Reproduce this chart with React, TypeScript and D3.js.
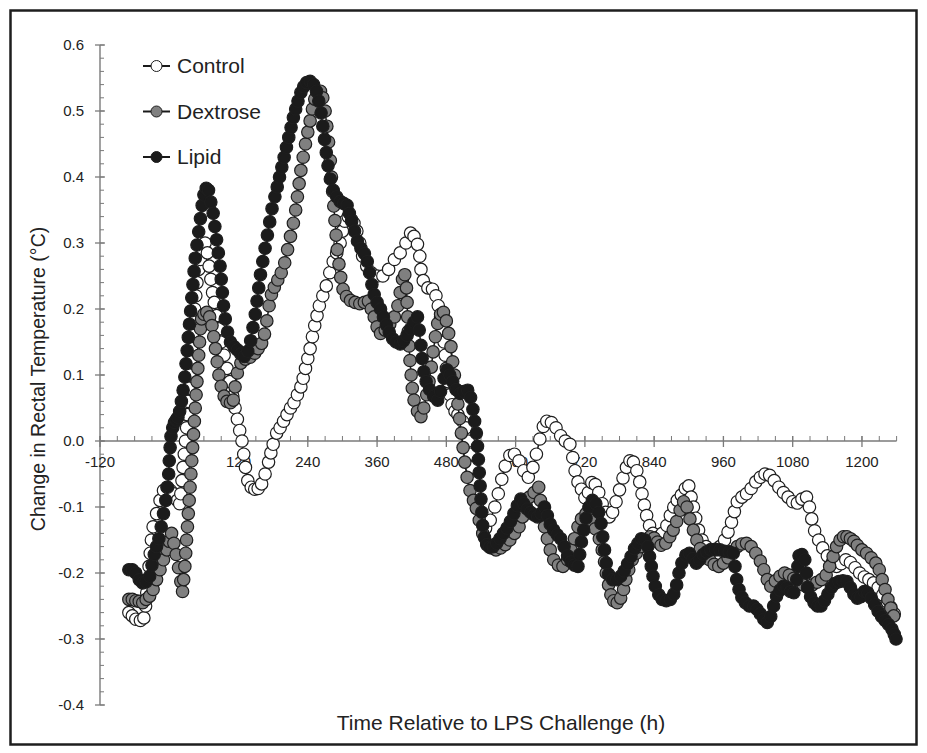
import React, { useEffect, useRef } from 'react';
import * as d3 from 'd3';

// [hours relative to LPS, change in rectal temperature °C]
const controlPoints: [number, number][] = [
  [-70,-0.26],[-64,-0.265],[-58,-0.27],[-50,-0.272],[-44,-0.268],[-41,-0.25],[-39,-0.23],[-37,-0.21],[-35,-0.19],[-33,-0.17],[-31,-0.15],[-28,-0.13],
  [-22,-0.11],[-16,-0.09],[-10,-0.075],[-4,-0.07],[2,-0.075],[8,-0.08],[14,-0.09],[18,-0.095],[20,-0.08],[22,-0.06],[24,-0.04],[26,-0.02],[28,0.0],
  [30,0.02],[31,0.04],[32.5,0.06],[34,0.08],[35.5,0.1],[37,0.12],[38.5,0.14],[40,0.16],[42,0.18],[44,0.2],[46,0.22],[48,0.24],[51,0.26],[54,0.275],
  [58,0.29],[62,0.3],[66,0.285],[69,0.265],[72,0.245],[75,0.225],[78,0.21],[82,0.19],[86,0.17],[90,0.15],[95,0.13],[100,0.11],[105,0.09],[110,0.068],
  [114,0.05],[118,0.033],[122,0.016],[126,0.0],[129,-0.02],[132,-0.04],[136,-0.06],[142,-0.07],[148,-0.073],[154,-0.072],[160,-0.065],[166,-0.05],
  [172,-0.032],[176,-0.018],[180,-0.005],[186,0.012],[192,0.02],[198,0.03],[204,0.04],[210,0.05],[216,0.058],[222,0.07],[228,0.082],[232,0.095],
  [236,0.11],[240,0.125],[244,0.14],[248,0.158],[252,0.175],[256,0.19],[260,0.205],[266,0.22],[272,0.235],[278,0.255],[284,0.272],[290,0.285],
  [296,0.3],[300,0.318],[304,0.333],[310,0.34],[316,0.335],[320,0.33],[325,0.318],[330,0.3],[335,0.28],[342,0.265],[350,0.255],[360,0.25],[370,0.25],
  [380,0.26],[390,0.275],[400,0.285],[410,0.3],[418,0.315],[424,0.31],[430,0.298],[434,0.28],[436,0.26],[440,0.243],[448,0.232],[456,0.23],[462,0.22],
  [466,0.205],[470,0.188],[473,0.17],[476,0.15],[478,0.13],[480,0.11],[483,0.09],[486,0.07],[490,0.055],[495,0.045],[500,0.04],[508,0.03],[514,0.02],
  [518,0.0],[521,-0.02],[524,-0.04],[527,-0.06],[530,-0.08],[534,-0.1],[540,-0.118],[548,-0.132],[556,-0.12],[564,-0.1],[570,-0.08],[576,-0.058],
  [582,-0.038],[590,-0.022],[598,-0.02],[606,-0.03],[614,-0.045],[622,-0.055],[630,-0.04],[636,-0.02],[642,0.003],[648,0.022],[654,0.03],[662,0.028],
  [670,0.02],[678,0.008],[686,0.0],[694,-0.005],[699,-0.025],[703,-0.045],[708,-0.062],[714,-0.073],[720,-0.086],[726,-0.078],[732,-0.063],[738,-0.066],
  [744,-0.078],[750,-0.095],[756,-0.108],[762,-0.115],[768,-0.108],[774,-0.092],[780,-0.074],[786,-0.056],[792,-0.04],[798,-0.03],[804,-0.032],
  [810,-0.045],[815,-0.062],[819,-0.08],[823,-0.097],[827,-0.113],[832,-0.128],[838,-0.14],[846,-0.146],[854,-0.14],[862,-0.128],[868,-0.113],
  [874,-0.1],[880,-0.09],[887,-0.082],[894,-0.072],[900,-0.068],[904,-0.085],[908,-0.1],[912,-0.117],[917,-0.135],[923,-0.15],[930,-0.16],[938,-0.165],
  [946,-0.165],[954,-0.16],[962,-0.15],[968,-0.138],[974,-0.123],[979,-0.107],[984,-0.092],[992,-0.085],[1000,-0.08],[1008,-0.072],[1016,-0.062],
  [1024,-0.055],[1032,-0.05],[1040,-0.052],[1048,-0.06],[1056,-0.07],[1064,-0.078],[1072,-0.085],[1080,-0.092],[1088,-0.094],[1096,-0.088],[1104,-0.085],
  [1109,-0.1],[1113,-0.118],[1118,-0.136],[1125,-0.15],[1132,-0.162],[1140,-0.174],[1148,-0.185],[1156,-0.19],[1164,-0.186],[1172,-0.18],[1180,-0.184],
  [1188,-0.192],[1196,-0.2],[1204,-0.206],[1212,-0.21],[1220,-0.215],[1228,-0.222],[1236,-0.233],[1244,-0.244],[1250,-0.252],[1256,-0.262],
];

const dextrosePoints: [number, number][] = [
  [-70,-0.24],[-64,-0.24],[-58,-0.242],[-52,-0.243],[-46,-0.245],[-40,-0.24],[-34,-0.235],[-28,-0.225],[-22,-0.21],[-16,-0.195],[-10,-0.18],[-4,-0.165],
  [0,-0.152],[4,-0.14],[8,-0.155],[12,-0.172],[16,-0.192],[20,-0.213],[23,-0.228],[25,-0.21],[27,-0.19],[28.5,-0.17],[30,-0.15],[31.5,-0.13],[33,-0.11],
  [34.5,-0.09],[36,-0.07],[37.5,-0.05],[39,-0.03],[40.5,-0.01],[42,0.01],[43.5,0.03],[45,0.05],[46.5,0.07],[48,0.09],[49.5,0.11],[51,0.13],[52.5,0.15],
  [54,0.17],[56,0.185],[60,0.192],[65,0.195],[70,0.188],[74,0.175],[77,0.158],[80,0.14],[83,0.12],[86,0.1],[90,0.083],[95,0.068],[100,0.06],[106,0.058],
  [111,0.062],[114,0.082],[118,0.103],[124,0.118],[132,0.124],[140,0.127],[148,0.133],[154,0.14],[160,0.148],[165,0.162],[169,0.182],[173,0.205],
  [177,0.222],[182,0.233],[188,0.244],[194,0.255],[200,0.27],[205,0.29],[210,0.31],[215,0.33],[219,0.35],[222,0.37],[225,0.39],[228,0.41],[232,0.43],
  [236,0.45],[240,0.468],[244,0.485],[248,0.503],[252,0.518],[257,0.528],[262,0.53],[266,0.52],[270,0.5],[273,0.477],[276,0.453],[279,0.425],[281,0.4],
  [283,0.378],[285,0.356],[287,0.334],[289,0.312],[291,0.29],[294,0.268],[297,0.248],[301,0.23],[307,0.219],[314,0.213],[322,0.21],[330,0.208],
  [338,0.21],[345,0.212],[350,0.2],[355,0.188],[360,0.173],[366,0.163],[374,0.168],[382,0.177],[390,0.188],[396,0.205],[400,0.225],[404,0.245],
  [408,0.252],[411,0.232],[412,0.21],[413,0.188],[414,0.166],[415.5,0.144],[417,0.122],[419,0.1],[421,0.08],[424,0.062],[430,0.045],[436,0.037],
  [441,0.05],[446,0.07],[450,0.09],[454,0.112],[457,0.135],[461,0.158],[465,0.178],[470,0.192],[475,0.195],[480,0.182],[484,0.163],[488,0.143],
  [491,0.12],[494,0.1],[497,0.078],[500,0.056],[503,0.034],[506,0.012],[509,-0.01],[512,-0.032],[516,-0.055],[521,-0.075],[527,-0.09],[532,-0.102],
  [537,-0.12],[543,-0.14],[550,-0.155],[558,-0.162],[566,-0.165],[574,-0.162],[582,-0.157],[590,-0.15],[598,-0.14],[606,-0.13],[612,-0.115],[618,-0.097],
  [624,-0.085],[632,-0.078],[640,-0.07],[643,-0.09],[646,-0.11],[650,-0.13],[655,-0.148],[660,-0.165],[666,-0.18],[674,-0.188],[682,-0.19],[690,-0.18],
  [696,-0.165],[702,-0.148],[708,-0.13],[714,-0.118],[722,-0.11],[730,-0.12],[738,-0.133],[745,-0.148],[750,-0.165],[754,-0.183],[757,-0.2],[761,-0.218],
  [765,-0.233],[770,-0.242],[776,-0.245],[782,-0.238],[787,-0.225],[791,-0.21],[796,-0.195],[802,-0.18],[809,-0.17],[817,-0.16],[825,-0.151],[833,-0.145],
  [840,-0.147],[846,-0.153],[852,-0.158],[860,-0.155],[867,-0.145],[873,-0.135],[879,-0.122],[885,-0.105],[891,-0.092],[897,-0.1],[902,-0.118],[908,-0.135],
  [914,-0.15],[920,-0.163],[928,-0.173],[936,-0.18],[944,-0.187],[952,-0.19],[960,-0.185],[968,-0.177],[976,-0.168],[984,-0.16],[992,-0.156],[1000,-0.155],
  [1008,-0.16],[1016,-0.17],[1024,-0.182],[1030,-0.195],[1036,-0.21],[1042,-0.22],[1050,-0.212],[1058,-0.205],[1066,-0.2],[1074,-0.203],[1082,-0.208],
  [1090,-0.212],[1098,-0.218],[1106,-0.222],[1114,-0.218],[1122,-0.214],[1130,-0.21],[1138,-0.203],[1144,-0.19],[1150,-0.175],[1156,-0.16],[1162,-0.15],
  [1168,-0.145],[1174,-0.145],[1180,-0.148],[1186,-0.152],[1192,-0.158],[1200,-0.165],[1208,-0.17],[1216,-0.177],[1224,-0.185],[1230,-0.195],[1235,-0.21],
  [1240,-0.225],[1245,-0.24],[1250,-0.253],[1255,-0.265],
];

const lipidPoints: [number, number][] = [
  [-70,-0.195],[-64,-0.195],[-58,-0.2],[-52,-0.21],[-46,-0.215],[-40,-0.213],[-34,-0.205],[-30,-0.188],[-26,-0.172],[-22,-0.16],[-18,-0.148],[-14,-0.13],
  [-10,-0.11],[-6,-0.09],[-3,-0.07],[-1,-0.05],[0,-0.03],[1.5,-0.01],[3,0.007],[6,0.02],[9,0.028],[12,0.032],[15,0.036],[18,0.045],[21,0.06],[24,0.077],
  [27,0.097],[29,0.117],[31,0.137],[33,0.157],[35,0.177],[37,0.197],[39,0.217],[41,0.237],[43,0.257],[45,0.277],[48,0.297],[51,0.317],[54,0.337],
  [57,0.357],[60,0.373],[64,0.383],[68,0.38],[72,0.362],[76,0.345],[79,0.325],[82,0.305],[85,0.285],[88,0.265],[90,0.245],[92,0.225],[94,0.205],
  [97,0.185],[101,0.165],[106,0.15],[112,0.143],[118,0.138],[124,0.132],[130,0.128],[136,0.136],[141,0.152],[145,0.172],[149,0.192],[152,0.212],
  [155,0.232],[158,0.252],[162,0.272],[166,0.292],[170,0.312],[174,0.332],[178,0.352],[183,0.37],[187,0.385],[191,0.4],[195,0.415],[199,0.43],
  [203,0.445],[207,0.46],[211,0.475],[215,0.49],[219,0.503],[223,0.515],[228,0.528],[233,0.537],[238,0.543],[244,0.545],[250,0.54],[255,0.53],
  [259,0.515],[263,0.497],[266,0.477],[269,0.457],[272,0.437],[275,0.417],[279,0.397],[284,0.38],[290,0.37],[296,0.363],[302,0.36],[308,0.357],
  [312,0.345],[316,0.333],[321,0.318],[326,0.303],[332,0.292],[338,0.284],[343,0.272],[347,0.255],[351,0.237],[355,0.222],[360,0.21],[366,0.2],
  [371,0.188],[376,0.176],[381,0.165],[387,0.155],[393,0.15],[400,0.147],[406,0.152],[412,0.16],[418,0.17],[424,0.18],[430,0.188],[433,0.168],
  [436,0.145],[438,0.125],[441,0.105],[445,0.09],[451,0.078],[458,0.068],[465,0.062],[470,0.075],[476,0.095],[481,0.108],[486,0.1],[491,0.09],
  [497,0.078],[504,0.072],[510,0.075],[517,0.077],[522,0.066],[526,0.048],[529,0.03],[532,0.012],[534,-0.008],[535.5,-0.028],[537,-0.048],
  [538.5,-0.068],[540,-0.088],[541.5,-0.108],[543,-0.128],[546,-0.146],[550,-0.157],[555,-0.161],[561,-0.16],[567,-0.155],[573,-0.148],[579,-0.14],
  [585,-0.132],[591,-0.122],[597,-0.11],[603,-0.098],[609,-0.088],[614,-0.095],[620,-0.103],[626,-0.108],[632,-0.112],[638,-0.115],[644,-0.11],
  [650,-0.1],[655,-0.113],[660,-0.126],[666,-0.135],[672,-0.142],[678,-0.148],[684,-0.16],[690,-0.174],[696,-0.183],[702,-0.188],[708,-0.19],
  [711,-0.172],[714,-0.153],[718,-0.135],[722,-0.117],[727,-0.1],[733,-0.09],[739,-0.095],[744,-0.108],[748,-0.125],[751,-0.145],[754,-0.165],
  [757,-0.185],[761,-0.202],[768,-0.21],[775,-0.21],[782,-0.205],[788,-0.197],[794,-0.186],[800,-0.175],[806,-0.163],[812,-0.155],[818,-0.148],
  [824,-0.15],[829,-0.16],[832,-0.175],[835,-0.19],[838,-0.205],[842,-0.22],[848,-0.233],[854,-0.24],[861,-0.242],[868,-0.24],[874,-0.232],
  [879,-0.218],[883,-0.2],[888,-0.185],[895,-0.173],[901,-0.17],[907,-0.178],[913,-0.185],[919,-0.18],[925,-0.172],[931,-0.168],[938,-0.165],
  [946,-0.164],[954,-0.165],[962,-0.167],[970,-0.168],[977,-0.17],[980,-0.19],[983,-0.21],[987,-0.225],[992,-0.237],[998,-0.245],[1005,-0.25],
  [1012,-0.25],[1018,-0.255],[1024,-0.262],[1030,-0.27],[1036,-0.275],[1042,-0.266],[1047,-0.25],[1052,-0.235],[1058,-0.226],[1064,-0.22],
  [1070,-0.222],[1076,-0.228],[1082,-0.23],[1087,-0.21],[1089,-0.19],[1091,-0.174],[1096,-0.172],[1101,-0.18],[1104,-0.2],[1106,-0.222],[1111,-0.236],
  [1117,-0.245],[1123,-0.25],[1129,-0.25],[1135,-0.242],[1141,-0.232],[1147,-0.222],[1153,-0.216],[1160,-0.213],[1167,-0.212],[1174,-0.213],
  [1180,-0.222],[1186,-0.232],[1192,-0.238],[1198,-0.236],[1204,-0.228],[1210,-0.23],[1216,-0.238],[1222,-0.248],[1228,-0.258],[1234,-0.266],
  [1240,-0.272],[1246,-0.278],[1252,-0.285],[1256,-0.293],[1259,-0.3],
];

const seriesNames = ['Control', 'Dextrose', 'Lipid'];
const seriesFills = ['#ffffff', '#808080', '#1b1b1b'];
const xTickValues = [-120, 0, 120, 240, 360, 480, 600, 720, 840, 960, 1080, 1200];
const yTickValues = [-0.4, -0.3, -0.2, -0.1, 0.0, 0.1, 0.2, 0.3, 0.4, 0.5, 0.6];

const FONT = '"Liberation Sans", Arial, Helvetica, sans-serif';

const TemperatureChart = () => {
  const chartRef = useRef<SVGSVGElement | null>(null);

  useEffect(() => {
    if (!chartRef.current) return;
    const svg = d3.select(chartRef.current);
    svg.selectAll('*').remove();

    const x = d3.scaleLinear().domain([-120, 1260]).range([100, 896.6]);
    const y = d3.scaleLinear().domain([-0.4, 0.6]).range([705, 45]);
    const axisColor = '#7a7a7a';

    // frame
    svg.append('rect')
      .attr('x', 10.5).attr('y', 10.5).attr('width', 906).attr('height', 734)
      .attr('fill', 'white').attr('stroke', '#1e1e1e').attr('stroke-width', 2.5);

    // y axis
    const yAxis = svg.append('g');
    yAxis.append('line')
      .attr('x1', x(-120)).attr('x2', x(-120)).attr('y1', y(-0.4)).attr('y2', y(0.6))
      .attr('stroke', axisColor).attr('stroke-width', 1.4);
    yAxis.selectAll('.ymin').data(d3.range(-40, 61, 2).map(d => d / 100)).enter()
      .append('line')
      .attr('x1', x(-120)).attr('x2', x(-120) + 4)
      .attr('y1', d => y(d)).attr('y2', d => y(d))
      .attr('stroke', axisColor).attr('stroke-width', 1);
    yAxis.selectAll('.ymaj').data(yTickValues).enter()
      .append('line')
      .attr('x1', x(-120) - 5).attr('x2', x(-120) + 5)
      .attr('y1', d => y(d)).attr('y2', d => y(d))
      .attr('stroke', axisColor).attr('stroke-width', 1.3);
    yAxis.selectAll('.ylab').data(yTickValues).enter()
      .append('text')
      .attr('x', 84).attr('y', d => y(d)).attr('dy', '0.36em')
      .attr('text-anchor', 'end')
      .attr('font-family', FONT).attr('font-size', 15).attr('fill', '#222')
      .text(d => d.toFixed(1));

    // x axis along zero
    const xAxis = svg.append('g');
    xAxis.append('line')
      .attr('x1', x(-120)).attr('x2', x(1260)).attr('y1', y(0)).attr('y2', y(0))
      .attr('stroke', axisColor).attr('stroke-width', 1.4);
    xAxis.selectAll('.xmin').data(d3.range(-120, 1261, 30)).enter()
      .append('line')
      .attr('x1', d => x(d)).attr('x2', d => x(d))
      .attr('y1', y(0) - 5).attr('y2', y(0))
      .attr('stroke', axisColor).attr('stroke-width', 1);
    xAxis.selectAll('.xmaj').data(xTickValues).enter()
      .append('line')
      .attr('x1', d => x(d)).attr('x2', d => x(d))
      .attr('y1', y(0) - 5).attr('y2', y(0) + 6)
      .attr('stroke', axisColor).attr('stroke-width', 1.3);
    xAxis.selectAll('.xlab').data(xTickValues).enter()
      .append('text')
      .attr('x', d => x(d)).attr('y', y(0) + 26)
      .attr('text-anchor', 'middle')
      .attr('font-family', FONT).attr('font-size', 15).attr('fill', '#222')
      .text(d => String(d));

    // axis titles
    svg.append('text')
      .attr('x', 501).attr('y', 730)
      .attr('text-anchor', 'middle')
      .attr('font-family', FONT).attr('font-size', 21).attr('fill', '#222')
      .text('Time Relative to LPS Challenge (h)');
    svg.append('text')
      .attr('transform', 'translate(45,379) rotate(-90)')
      .attr('text-anchor', 'middle')
      .attr('font-family', FONT).attr('font-size', 19.5).attr('fill', '#222')
      .text('Change in Rectal Temperature (°C)');

    // series
    const allSeries = [controlPoints, dextrosePoints, lipidPoints];
    const line = d3.line<[number, number]>().x(d => x(d[0])).y(d => y(d[1]));
    allSeries.forEach((pts, i) => {
      const g = svg.append('g');
      g.append('path')
        .attr('d', line(pts))
        .attr('fill', 'none').attr('stroke', '#1a1a1a').attr('stroke-width', 1.5);
      g.selectAll('circle').data(pts).enter()
        .append('circle')
        .attr('cx', d => x(d[0])).attr('cy', d => y(d[1]))
        .attr('r', 6.2)
        .attr('fill', seriesFills[i])
        .attr('stroke', '#1e1e1e').attr('stroke-width', 1.2);
    });

    // legend
    const legend = svg.append('g');
    seriesNames.forEach((name, i) => {
      const ly = 66 + i * 45.5;
      legend.append('line')
        .attr('x1', 143).attr('x2', 170).attr('y1', ly).attr('y2', ly)
        .attr('stroke', '#1a1a1a').attr('stroke-width', 2);
      legend.append('circle')
        .attr('cx', 156.5).attr('cy', ly).attr('r', 5.5)
        .attr('fill', seriesFills[i]).attr('stroke', '#1e1e1e').attr('stroke-width', 1);
      legend.append('text')
        .attr('x', 177).attr('y', ly + 7)
        .attr('font-family', FONT).attr('font-size', 21).attr('fill', '#222')
        .text(name);
    });
  }, []);

  return <svg ref={chartRef} width={927} height={753} style={{ position: 'absolute', left: 0, top: 0 }} />;
};

export default function App() {
  return <TemperatureChart />;
}
